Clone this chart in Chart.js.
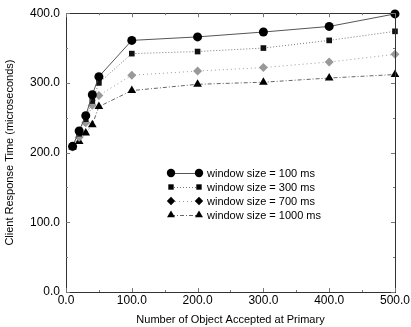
<!DOCTYPE html>
<html><head><meta charset="utf-8">
<script src="https://cdn.jsdelivr.net/npm/chart.js@4/dist/chart.umd.min.js"></script>
<style>html,body{margin:0;padding:0;background:#fff}#w{width:411px;height:327px}</style>
</head><body><div id="w"><canvas id="c"></canvas></div>
<script>
const xValues = [10, 20, 30, 40, 50, 100, 200, 300, 400, 500];
const seriesNames = ["window size = 100 ms", "window size = 300 ms", "window size = 700 ms", "window size = 1000 ms"];
const s100 = [209, 231, 253, 283, 309, 361, 366, 373, 381, 399];
const s300 = [208, 227, 248, 274, 300, 342, 345, 350, 361, 374];
const s700 = [208, 222, 243, 268, 282, 311, 317, 322, 330, 341];
const s1000 = [208, 216, 228, 240, 266, 289, 298, 301, 307, 312];
const xTicks = [0, 100, 200, 300, 400, 500];
const yTicks = [0, 100, 200, 300, 400];

const FONT = "'Liberation Sans', Arial, sans-serif";
function pts(arr){ return xValues.map((x,i)=>({x, y: arr[i]})); }
const styles = [
  {pt:'circle', r:4.5, lr:4.2, line:'#555', dash:[], fill:'#000'},
  {pt:'rect', r:4, lr:3.8, line:'#777', dash:[1,2], fill:'#111'},
  {pt:'rectRot', r:4.5, lr:4.2, line:'#999', dash:[1,3], fill:'#999'},
  {pt:'triangle', r:5, lr:4.6, line:'#666', dash:[4,2,1,2], fill:'#000'}
];
const allSeries = [s100, s300, s700, s1000];
const datasets = allSeries.map((s,i)=>({
  label: seriesNames[i], data: pts(s),
  borderColor: styles[i].line, borderWidth: 1, borderDash: styles[i].dash,
  pointStyle: styles[i].pt, pointRadius: styles[i].r, pointBackgroundColor: styles[i].fill,
  pointBorderColor: styles[i].fill, pointBorderWidth: 0, tension: 0, clip: false
}));

const decor = {
  id: 'decor',
  afterDraw(chart){
    const ctx = chart.ctx, a = chart.chartArea, xs = chart.scales.x, ys = chart.scales.y;
    ctx.save();
    ctx.strokeStyle = '#333'; ctx.lineWidth = 1;
    ctx.strokeRect(Math.round(a.left)+0.5, Math.round(a.top)+0.5, Math.round(a.right-a.left), Math.round(a.bottom-a.top));
    ctx.strokeStyle = '#777';
    for (let v = 0; v <= 500; v += 50) {
      const p = Math.round(xs.getPixelForValue(v))+0.5, L = (v % 100 === 0) ? 4 : 2;
      ctx.beginPath(); ctx.moveTo(p, a.bottom); ctx.lineTo(p, a.bottom-L);
      ctx.moveTo(p, a.top); ctx.lineTo(p, a.top+L); ctx.stroke();
    }
    for (let v = 0; v <= 400; v += 50) {
      const p = Math.round(ys.getPixelForValue(v))+0.5, L = (v % 100 === 0) ? 4 : 2;
      ctx.beginPath(); ctx.moveTo(a.left, p); ctx.lineTo(a.left+L, p);
      ctx.moveTo(a.right, p); ctx.lineTo(a.right-L, p); ctx.stroke();
    }
    // legend
    const lx1 = 171, lx2 = 199, tx = 207, y0 = 173, dy = 14;
    ctx.font = '11px ' + FONT; ctx.textBaseline = 'middle';
    chart.data.datasets.forEach((ds,i)=>{
      const y = y0 + i*dy, st = styles[i];
      ctx.strokeStyle = st.line; ctx.setLineDash(st.dash); ctx.lineWidth = 1;
      ctx.beginPath(); ctx.moveTo(lx1, y+0.5); ctx.lineTo(lx2, y+0.5); ctx.stroke();
      ctx.setLineDash([]);
      ctx.fillStyle = '#000';
      [lx1, lx2].forEach(x=>{
        Chart.helpers.drawPoint(ctx, {pointStyle: st.pt, radius: st.lr, borderWidth: 0}, x, y);
      });
      ctx.fillStyle = '#000';
      ctx.fillText(ds.label, tx, y+0.5);
    });
    ctx.restore();
  }
};

new Chart(document.getElementById('c'), {
  type: 'line',
  data: { datasets },
  options: {
    responsive: true, maintainAspectRatio: false, animation: false,
    layout: { padding: { top: 12, right: 13, left: 0, bottom: 0 } },
    plugins: { legend: { display: false }, tooltip: { enabled: false } },
    scales: {
      x: {
        type: 'linear', min: 0, max: 500,
        afterBuildTicks: s => { s.ticks = xTicks.map(v=>({value:v})); },
        afterFit: s => { s.height = 35; },
        grid: { display: false, drawTicks: false },
        border: { display: false },
        ticks: { color: '#000', font: { family: FONT, size: 12 }, padding: 1, maxRotation: 0, callback: v => v.toFixed(1) },
        title: { display: true, text: 'Number of Object Accepted at Primary', color: '#000', font: { family: FONT, size: 11 }, padding: { top: 2, bottom: 0 } }
      },
      y: {
        type: 'linear', min: 0, max: 400,
        afterBuildTicks: s => { s.ticks = yTicks.map(v=>({value:v})); },
        afterFit: s => { s.width = 66; },
        grid: { display: false, drawTicks: false },
        border: { display: false },
        ticks: { color: '#000', font: { family: FONT, size: 12 }, padding: 6, callback: v => v.toFixed(1) },
        title: { display: true, text: 'Client Response Time (microseconds)', color: '#000', font: { family: FONT, size: 11 }, padding: { top: 3, bottom: 0 } }
      }
    }
  },
  plugins: [decor]
});
</script></body></html>
